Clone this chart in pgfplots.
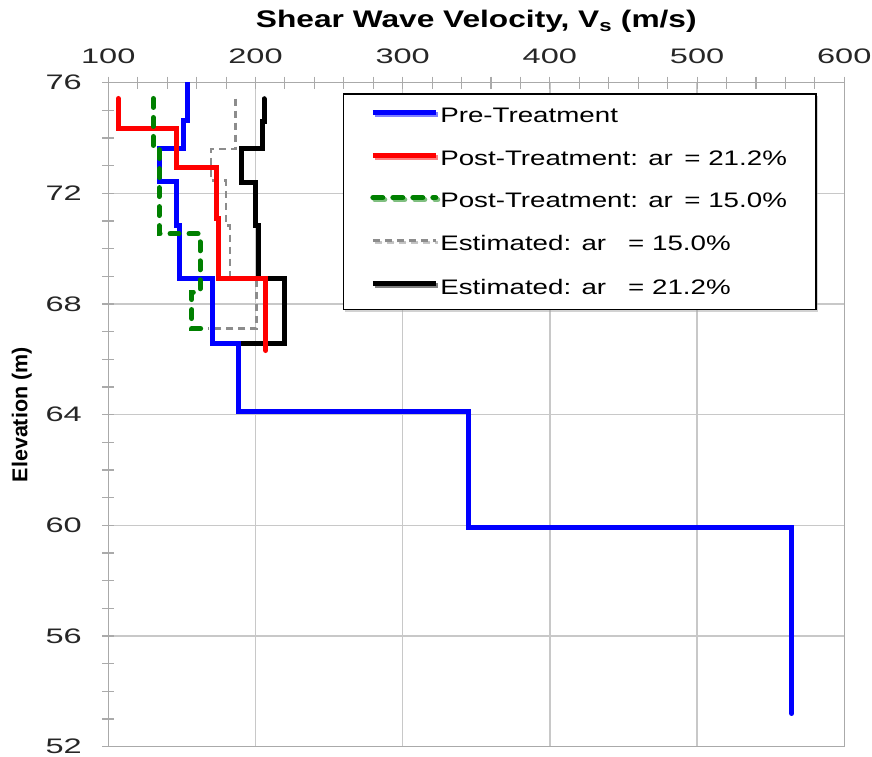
\documentclass[border=0pt]{standalone}
\usepackage{fontspec}
\setmainfont{Liberation Sans}[FakeStretch=1.32]
\newfontfamily\plainsans{Liberation Sans}
\newfontfamily\tickfont{Liberation Sans}[FakeStretch=1.55]
\usepackage{pgfplots}
\pgfplotsset{compat=1.18}
\usetikzlibrary{shadows}
\definecolor{gridgray}{RGB}{200,200,200}
\definecolor{axgray}{RGB}{170,170,170}
\definecolor{vgreen}{RGB}{0,128,0}
\definecolor{vgray}{RGB}{140,140,140}
\begin{document}
\begin{tikzpicture}
\path[use as bounding box] (0,0) rectangle (872bp,757bp);
\begin{axis}[
  at={(108.3bp,10.3bp)}, anchor=south west,
  scale only axis, width=736bp, height=664bp,
  xmin=100, xmax=600, ymin=52, ymax=76,
  xtick={100,200,...,600}, ytick={52,56,...,76},
  minor x tick num=4, minor y tick num=3,
  xtick pos=right, xticklabel pos=right, ytick pos=left,
  tick align=center,
  major tick length=12bp, minor tick length=12bp,
  every tick/.style={axgray, line width=1.1bp},
  axis line style={axgray, line width=1.3bp},
  major grid style={gridgray, line width=1.3bp},
  xmajorgrids, ymajorgrids,
  /pgf/number format/assume math mode=true,
  /pgf/number format/1000 sep={},
  tick label style={font=\tickfont\fontsize{21bp}{25bp}\selectfont, text=black!85},
  xticklabel style={yshift=9bp},
  yticklabel style={xshift=-17bp},
  xlabel={\fontsize{24bp}{28bp}\selectfont\bfseries Shear Wave Velocity, V\textsubscript{s} (m/s)},
  xlabel style={yshift=10bp},
  ylabel={\plainsans\fontsize{21.5bp}{25bp}\selectfont\bfseries Elevation (m)},
  ylabel style={yshift=7bp},
  legend image code/.code={\draw[#1] (0bp,0.33em) -- (63bp,0.33em);},
  legend cell align=left,
  legend style={at={(0.3185,0.984)}, anchor=north west,
    draw=black, line width=1.2bp, fill=white,
    drop shadow={shadow xshift=2bp, shadow yshift=-2bp, fill=black!35},
    font=\fontsize{21bp}{25bp}\selectfont,
    inner xsep=27bp, inner ysep=12bp, row sep=22.5bp,
    /tikz/every even column/.append style={column sep=0bp}},
]
\addlegendimage{blue, line width=5bp}
\addlegendentry{Pre-Treatment}
\addlegendimage{red, line width=5bp}
\addlegendentry{Post-Treatment: ar\hspace{0.55em}= 21.2\%}
\addlegendimage{vgreen, line width=5bp, line cap=round, dash pattern=on 10bp off 10bp}
\addlegendentry{Post-Treatment: ar\hspace{0.55em}= 15.0\%}
\addlegendimage{vgray, line width=2.5bp, dash pattern=on 7bp off 5bp}
\addlegendentry{Estimated: ar\hspace{1.05em}= 15.0\%}
\addlegendimage{black, line width=5bp}
\addlegendentry{Estimated: ar\hspace{1.05em}= 21.2\%}

% Estimated ar = 15.0%
\addplot[forget plot, vgray, line width=2.5bp, dash pattern=on 7bp off 5bp] coordinates {
(186.5,75.42) (186.5,73.61) (169.6,73.61) (169.6,72.47) (179.8,72.47) (179.8,70.84)
(182.7,70.84) (182.7,68.92) (200.8,68.92) (200.8,67.11) (167.9,67.11)};
% Estimated ar = 21.2%
\addplot[forget plot, black, line width=5bp, line cap=round] coordinates {
(205.8,75.42) (205.8,74.58) (204.9,74.58) (204.9,73.61) (190.6,73.61) (190.6,72.41)
(200.1,72.41) (200.1,70.84) (201.9,70.84) (201.9,68.92) (220,68.92) (220,66.57) (188.3,66.57)};
% Pre-Treatment
\addplot[forget plot, blue, line width=5bp, line cap=round] coordinates {
(153.7,76.0) (153.7,74.65) (151.4,74.65) (151.4,73.63) (134.6,73.63) (134.6,72.42)
(146.5,72.42) (146.5,70.84) (148.7,70.84) (148.7,68.92) (170.9,68.92) (170.9,66.57)
(188.3,66.57) (188.3,64.13) (344.6,64.13) (344.6,59.94) (564.3,59.94) (564.3,53.2)};
% Post-Treatment ar = 21.2%
\addplot[forget plot, red, line width=5bp, line cap=round] coordinates {
(106.8,75.43) (106.8,74.35) (146,74.35) (146,72.93) (173.6,72.93) (173.6,71.1)
(175.2,71.1) (175.2,68.92) (207,68.92) (207,66.32)};
% Post-Treatment ar = 15.0%
\addplot[forget plot, vgreen, line width=5bp, line cap=round, dash pattern=on 9bp off 10bp] coordinates {
(130.6,75.43) (130.6,73.61) (134.6,73.61) (134.6,70.54) (162.3,70.54) (162.3,68.43)
(156.7,68.43) (156.7,67.11) (167.9,67.11)};
\end{axis}
\end{tikzpicture}
\end{document}
